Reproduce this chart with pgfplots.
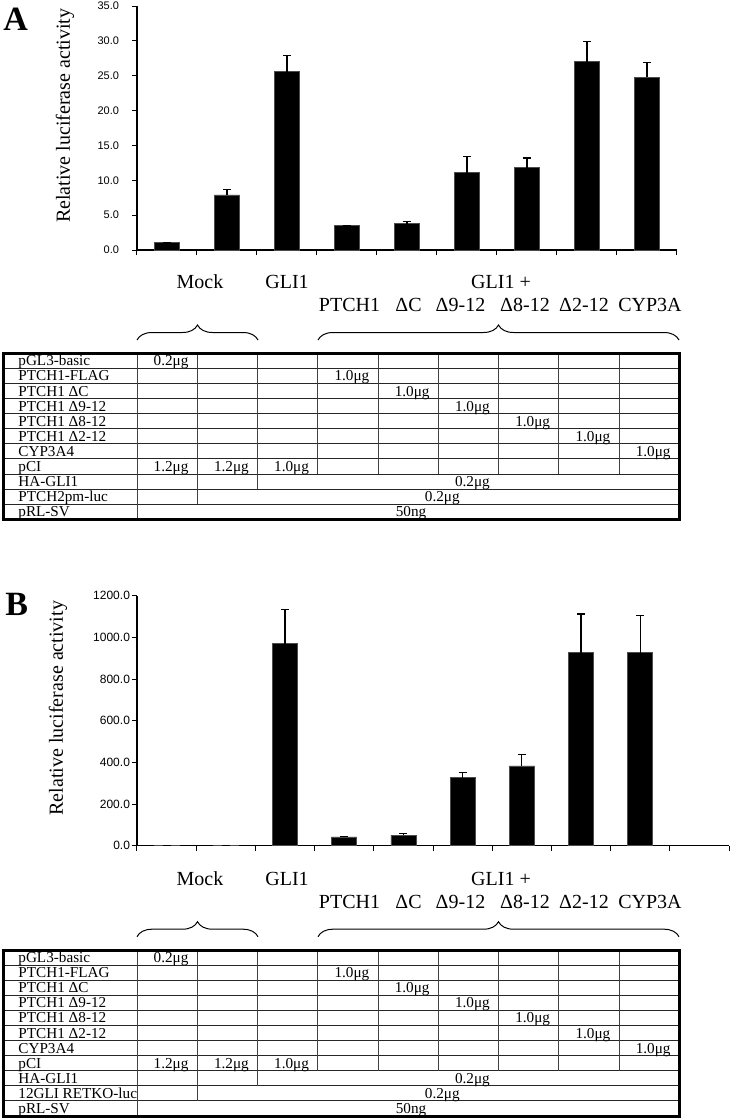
\documentclass[border=0pt]{standalone}
\usepackage{fontspec}
\setmainfont{Liberation Serif}
\newfontfamily\arial{Liberation Sans}
\usepackage{pgfplots}
\pgfplotsset{compat=1.18}
\usepackage{pgfplotstable}
\usetikzlibrary{decorations.pathreplacing}

% relative luciferase activity, mean and upper error
\pgfplotstableread{
x   y     err
0.5 1.1   0
1.5 7.9   0.8
2.5 25.6  2.3
3.5 3.5   0
4.5 3.8   0.25
5.5 11.1  2.3
6.5 11.8  1.4
7.5 27.0  2.9
8.5 24.8  2.1
}\dataA

\pgfplotstableread{
x   y     err
0.5 1     0
1.5 1     0
2.5 970   165
3.5 42    3
4.5 50    8
5.5 327   26
6.5 383   56
7.5 926   186
8.5 926   180
}\dataB

\pgfplotsset{
  lucbars/.style={
    scale only axis,
    anchor=south west,
    axis lines*=left,
    ybar, bar width=12.5pt,
    xmin=0, ymin=0,
    xticklabels={},
    tick align=outside,
    tick pos=left,
    major tick length=2.5pt,
    every tick/.style={black, line width=0.5pt},
    axis line style={black, line width=0.6pt},
    y tick label style={/pgf/number format/.cd, fixed, fixed zerofill,
      precision=1, 1000 sep={}, assume math mode=true, /tikz/.cd},
    ylabel={Relative luciferase activity},
    ylabel style={at={(axis description cs:-0.1333,0.55)}, anchor=center,
      font=\fontsize{10}{12}\selectfont},
  },
  lucplot/.style={fill=black, draw=black!70, line width=0.4pt,
    error bars/.cd, y dir=plus, y explicit,
    error bar style={black, line width=0.6pt},
    error mark options={rotate=90, black, line width=0.6pt, mark size=2pt}},
}

\newcommand{\panelannot}[2]{%
\begin{scope}[x=0.5pt, y=-0.5pt, shift={(0,#1)}]
  \begin{scope}[every node/.style={anchor=base, font=\fontsize{10}{12}\selectfont, inner sep=0pt}]
    \node at (200,288.3) {Mock};
    \node at (287,288.3) {GLI1};
    \node at (501,288.3) {GLI1 +};
    \node at (349.5,311.7) {PTCH1};
    \node at (408.5,311.7) {ΔC};
    \node at (460.5,311.7) {Δ9-12};
    \node at (525,311.7) {Δ8-12};
    \node at (584,311.7) {Δ2-12};
    \node at (650,311.7) {CYP3A};
  \end{scope}
  \draw[line width=0.5pt, decorate, decoration={brace, amplitude=7.5pt}] (137,340) -- (258,340);
  \draw[line width=0.5pt, decorate, decoration={brace, amplitude=7.5pt}] (318,340) -- (679,340);
  \begin{scope}[shift={(0,353.3)}, every node/.style={font=\fontsize{7.6}{8}\selectfont, inner sep=0pt}]
    \foreach \i in {1,...,10}
      \draw[line width=0.5pt, black!85] (3,\i*15.09) -- (679.25,\i*15.09);
    \draw[line width=0.5pt, black!75] (137,0) -- (137,166);
    \draw[line width=0.5pt, black!75] (197.25,0) -- (197.25,150.9);
    \draw[line width=0.5pt, black!75] (257.5,0) -- (257.5,135.8);
    \foreach \k in {3,...,8}
      \draw[line width=0.5pt, black!75] ({137+60.25*\k},0) -- ({137+60.25*\k},120.7);
    \draw[line width=1.5pt] (3,0) rectangle (679.25,166);
    \foreach \t [count=\i] in {pGL3-basic, PTCH1-FLAG, PTCH1 ΔC, PTCH1 Δ9-12,
        PTCH1 Δ8-12, PTCH1 Δ2-12, CYP3A4, pCI, HA-GLI1, #2, pRL-SV}
      \node[anchor=base west] at (18,\i*15.09-2.5) {\t};
    \node[anchor=base] at (171.1,12.6) {0.2μg};
    \foreach \k in {4,...,9}
      \node[anchor=base] at ({137+60.25*(\k-0.5)+4},{(\k-2)*15.09-2.5}) {1.0μg};
    \node[anchor=base] at (171.1,118.2) {1.2μg};
    \node[anchor=base] at (231.4,118.2) {1.2μg};
    \node[anchor=base] at (291.6,118.2) {1.0μg};
    \node[anchor=base] at (472.4,133.3) {0.2μg};
    \node[anchor=base] at (442.3,148.4) {0.2μg};
    \node[anchor=base] at (411,163.5) {50ng};
  \end{scope}
\end{scope}}

\begin{document}
\begin{tikzpicture}
\useasboundingbox (0,0) rectangle (366pt,-559.5pt);

\node[anchor=base west, inner sep=0pt, font=\bfseries\fontsize{17}{20}\selectfont] at (1.5pt,-15pt) {A};
\node[anchor=base west, inner sep=0pt, font=\bfseries\fontsize{17}{20}\selectfont] at (2.5pt,-307.5pt) {B};

\begin{axis}[lucbars, at={(68.5pt,-125pt)}, width=270pt, height=122pt,
  xmax=9, xtick={0,...,9}, ymax=35, ytick={0,5,...,35},
  yticklabel style={font=\arial\fontsize{5.5}{6}\selectfont, xshift=-3pt}]
\addplot[lucplot] table[x=x, y=y, y error=err] {\dataA};
\end{axis}

\begin{axis}[lucbars, at={(68.5pt,-422.85pt)}, width=296pt, height=125pt,
  xmax=10, xtick={0,...,10}, ymax=1200, ytick={0,200,...,1200},
  yticklabel style={font=\arial\fontsize{6}{7}\selectfont, xshift=2.5pt}]
\addplot[lucplot] table[x=x, y=y, y error=err] {\dataB};
\end{axis}

\panelannot{0}{PTCH2pm-luc}
\panelannot{596.7}{12GLI RETKO-luc}
\end{tikzpicture}
\end{document}
